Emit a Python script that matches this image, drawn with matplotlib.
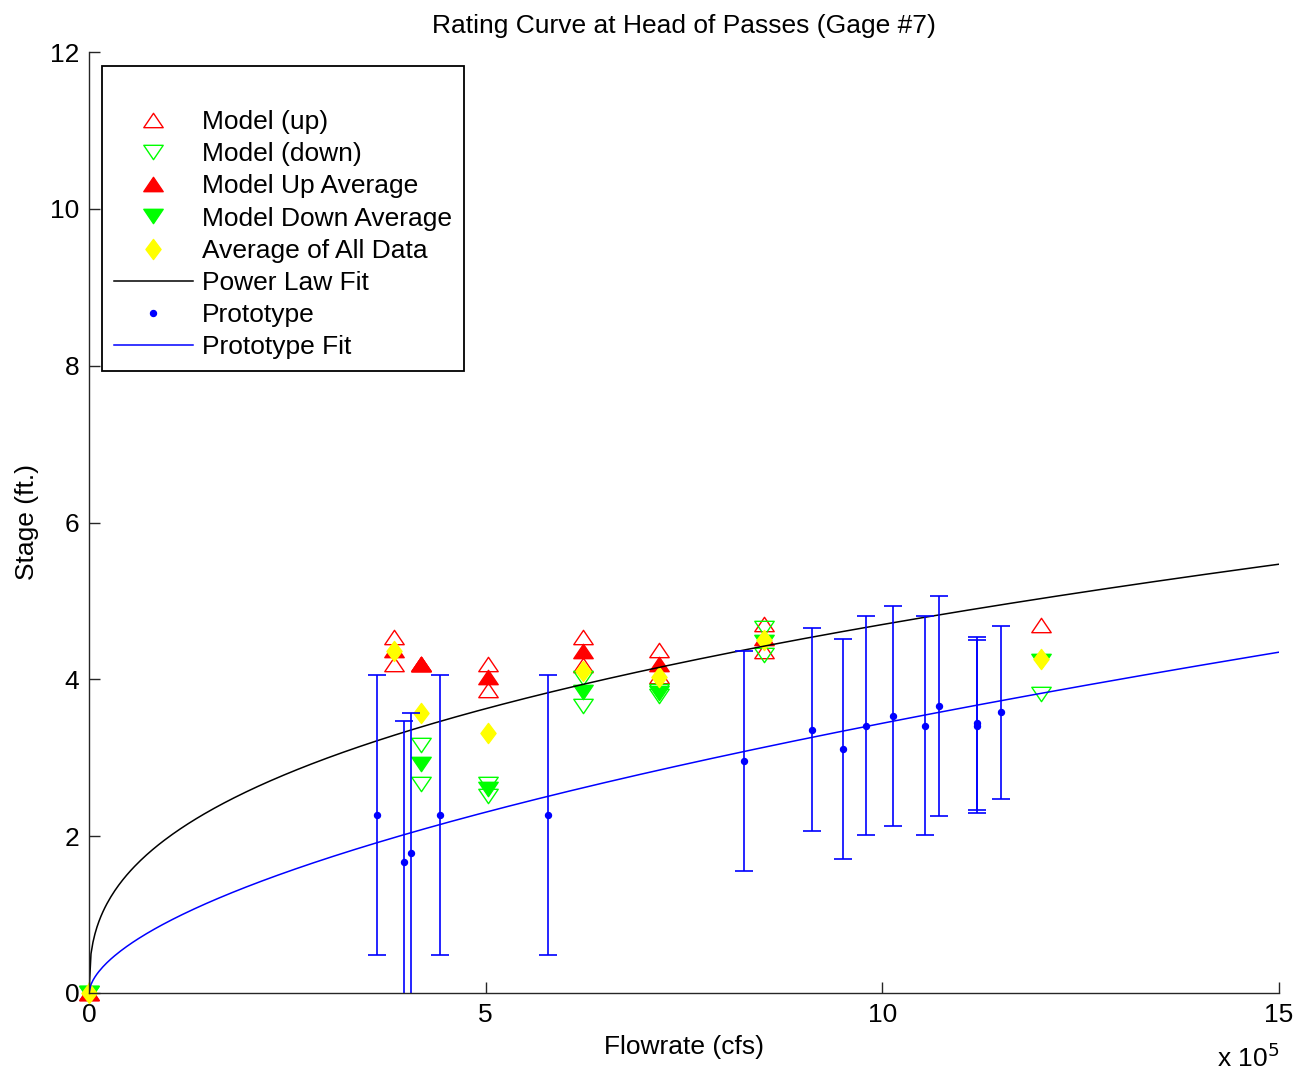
import numpy as np
import matplotlib
matplotlib.use("Agg")
import matplotlib.pyplot as plt
from matplotlib.path import Path

plt.rcParams['font.family'] = ['Liberation Sans', 'DejaVu Sans']

# ---- data (flow in cfs, stage in ft) ----
up_q = [0, 3.84e5, 3.84e5, 4.19e5, 4.19e5, 5.03e5, 5.03e5, 6.23e5, 6.23e5,
        7.19e5, 7.19e5, 8.51e5, 8.51e5, 12.0e5]
up_stage = [0, 4.54, 4.19, 4.20, 4.20, 4.20, 3.87, 4.54, 4.18,
            4.37, 4.04, 4.70, 4.36, 4.69]

down_q = [0, 4.19e5, 4.19e5, 5.03e5, 5.03e5, 6.23e5, 6.23e5,
          7.19e5, 7.19e5, 8.51e5, 8.51e5, 12.0e5]
down_stage = [0, 3.16, 2.67, 2.67, 2.51, 4.02, 3.66,
              3.85, 3.79, 4.65, 4.31, 3.81]

upavg_q = [0, 3.84e5, 4.19e5, 5.03e5, 6.23e5, 7.19e5, 8.51e5]
upavg_stage = [0, 4.37, 4.20, 4.03, 4.36, 4.20, 4.53]

downavg_q = [0, 4.19e5, 5.03e5, 6.23e5, 7.19e5, 8.51e5, 12.0e5]
downavg_stage = [0, 2.92, 2.60, 3.84, 3.82, 4.48, 4.23]

allavg_q = [0, 3.84e5, 4.19e5, 5.03e5, 6.23e5, 7.19e5, 8.51e5, 12.0e5]
allavg_stage = [0, 4.36, 3.57, 3.32, 4.11, 4.03, 4.50, 4.26]

proto_q = [3.63e5, 3.97e5, 4.06e5, 4.43e5, 5.79e5, 8.26e5, 9.11e5, 9.50e5,
           9.79e5, 10.13e5, 10.54e5, 10.71e5, 11.19e5, 11.19e5, 11.50e5]
proto_stage = [2.27, 1.67, 1.78, 2.27, 2.27, 2.96, 3.36, 3.11,
               3.41, 3.53, 3.41, 3.66, 3.44, 3.40, 3.58]
proto_err = [1.79, 1.80, 1.79, 1.79, 1.79, 1.40, 1.29, 1.40,
             1.40, 1.40, 1.40, 1.40, 1.10, 1.10, 1.10]

# power-law fit parameters (stage = a * (Q/1e5)^b)
power_a, power_b = 1.986, 0.374
proto_a, proto_b = 0.911, 0.577

SCALE = 1e5

fig = plt.figure(figsize=(13.12, 10.76), dpi=100)
ax = fig.add_axes([89/1312, 1-993/1076, 1190/1312, 941/1076])

FS = 19

# custom markers
diamond = Path([(0, 1), (0.75, 0), (0, -1), (-0.75, 0), (0, 1)],
               [Path.MOVETO, Path.LINETO, Path.LINETO, Path.LINETO, Path.CLOSEPOLY])
tri_up = Path([(0, 0.85), (-1.15, -0.85), (1.15, -0.85), (0, 0.85)],
              [Path.MOVETO, Path.LINETO, Path.LINETO, Path.CLOSEPOLY])
tri_dn = Path([(0, -0.85), (-1.15, 0.85), (1.15, 0.85), (0, -0.85)],
              [Path.MOVETO, Path.LINETO, Path.LINETO, Path.CLOSEPOLY])

qs = np.linspace(0, 15, 600)

h1, = ax.plot(np.array(up_q)/SCALE, up_stage, linestyle='none', marker=tri_up,
              ms=14, mfc='none', mec=(1, 0, 0), mew=1.0, label='Model (up)', clip_on=False)
h2, = ax.plot(np.array(down_q)/SCALE, down_stage, linestyle='none', marker=tri_dn,
              ms=14, mfc='none', mec=(0, 1, 0), mew=1.0, label='Model (down)', clip_on=False)
h3, = ax.plot(np.array(upavg_q)/SCALE, upavg_stage, linestyle='none', marker=tri_up,
              ms=14, mfc=(1, 0, 0), mec=(1, 0, 0), mew=1.0, label='Model Up Average',
              clip_on=False)
h4, = ax.plot(np.array(downavg_q)/SCALE, downavg_stage, linestyle='none', marker=tri_dn,
              ms=14, mfc=(0, 1, 0), mec=(0, 1, 0), mew=1.0, label='Model Down Average',
              clip_on=False)
h5, = ax.plot(np.array(allavg_q)/SCALE, allavg_stage, linestyle='none', marker=diamond,
              ms=14.5, mfc=(1, 1, 0), mec=(1, 1, 0), mew=1.0, label='Average of All Data',
              clip_on=False)
h6, = ax.plot(qs, power_a*qs**power_b, color='black', lw=1.1, label='Power Law Fit')
eb = ax.errorbar(np.array(proto_q)/SCALE, proto_stage, yerr=proto_err, fmt='o',
                 color=(0, 0, 1), ms=4.3, elinewidth=1.2, capsize=6.5, capthick=1.2,
                 label='Prototype')
h8, = ax.plot(qs, proto_a*qs**proto_b, color=(0, 0, 1), lw=1.1, label='Prototype Fit')

h7, = ax.plot([], [], linestyle='none', marker='o', ms=4.3, color=(0, 0, 1))

ax.set_xlim(0, 15)
ax.set_ylim(0, 12)
ax.set_xticks([0, 5, 10, 15])
ax.set_yticks([0, 2, 4, 6, 8, 10, 12])
ax.spines['top'].set_visible(False)
ax.spines['right'].set_visible(False)
for s in ('left', 'bottom'):
    ax.spines[s].set_linewidth(1.0)
    ax.spines[s].set_color('#262626')
ax.tick_params(direction='in', length=8, width=1.0, labelsize=FS, pad=7, colors='#262626',
               labelcolor='black')

ax.set_title('Rating Curve at Head of Passes (Gage #7)', fontsize=FS, pad=14)
ax.set_xlabel('Flowrate (cfs)', fontsize=FS, labelpad=6)
ax.set_ylabel('Stage (ft.)', fontsize=FS, labelpad=8)
ax.text(1.0, -0.069, r'x 10$^5$', transform=ax.transAxes, ha='right', va='center',
        fontsize=FS)

leg = ax.legend([h1, h2, h3, h4, h5, h6, h7, h8],
                ['Model (up)', 'Model (down)', 'Model Up Average', 'Model Down Average',
                 'Average of All Data', 'Power Law Fit', 'Prototype', 'Prototype Fit'],
                loc='upper left', bbox_to_anchor=(13/1190, (993-66)/941), borderaxespad=0,
                fontsize=FS, frameon=True, fancybox=False, shadow=False, framealpha=1,
                edgecolor='black', handlelength=3.0, handletextpad=0.35,
                labelspacing=0.31, borderpad=0.45, title=' ', title_fontsize=FS)
leg.get_frame().set_linewidth(1.3)
leg.set_zorder(5)

fig.savefig('out.png', dpi=100)
